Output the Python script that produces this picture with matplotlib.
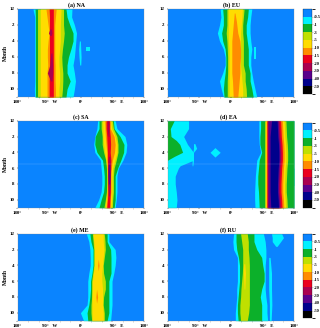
#!/usr/bin/env python3
import numpy as np
import matplotlib
matplotlib.use("Agg")
import matplotlib.pyplot as plt
from matplotlib.colors import ListedColormap, BoundaryNorm
from matplotlib.colorbar import ColorbarBase
from matplotlib.ticker import MultipleLocator

plt.rcParams['font.family'] = ['Liberation Serif', 'DejaVu Serif']

# colour classes, weakest to strongest
colors = ['#0a84ff', '#00f0ff', '#0cb02a', '#bfe000', '#ffdc00', '#ff8c00',
          '#eb001e', '#aa0050', '#5a008c', '#00008c', '#000000']
bounds = [-60, -50, -40, -30, -20, -15, -10, -5, -3, -1, -0.5, 0]
cbar_ticks = [-50, -40, -30, -20, -15, -10, -5, -3, -1, -0.5]

M = list(range(12))  # rows run 12, 1, 2 ... 11 from the top
month_ticks = [0, 2, 4, 6, 8, 10]
month_labels = ['12', '2', '4', '6', '8', '10']
lon_ticks = [-180, -90, 0, 90, 180]
lon_labels = ['180°', '90°   W', '0°', '       90°   E', '180°']

# each layer: colour class, months, left edge (lon), right edge (lon)
NA = [
    (1, M, [-136, -131, -131, -131, -131, -131, -131, -131, -131, -131, -132, -131],
     [-25, -26, -18, -12, -14, -16, -18, -22, -18, -15, -18, -22]),
    (1, [4, 5, 6, 7], [-4, -6, -5, -3], [-1, 0, 1, 0]),
    (1, [4.7, 5, 5.3], [15, 15, 15], [25, 25, 25]),
    (2, M, [-130, -129, -129, -129, -129, -129, -129, -129, -129, -129, -129, -129],
     [-42, -39, -31, -22, -22, -28, -35, -39, -39, -30, -39, -42]),
    (3, M, [-123] * 12, [-49, -49, -49, -47, -49, -52, -54, -53, -51, -51, -52, -54]),
    (4, M, [-115] * 12, [-56, -57, -58, -58, -58, -60, -62, -62, -60, -60, -62, -62]),
    (5, M, [-99, -96, -93, -90, -93, -95, -95, -94, -96, -96, -96, -96],
     [-70, -72, -74, -74, -74, -74, -74, -73, -73, -73, -72, -72]),
    (6, M, [-90, -89, -89, -89, -89, -89, -89, -89, -89, -90, -90, -90], [-78] * 12),
    (7, [2.5, 3, 3.3], [-88, -92, -88], [-84, -82, -84]),
    (7, [5.5, 7, 8, 9], [-85, -88, -95, -86], [-82, -80, -80, -82]),
]
EU = [
    (1, M, [-30, -28, -32, -38, -32, -21, -16, -16, -23, -32, -27, -21],
     [60, 57, 55, 55, 57, 60, 57, 57, 60, 64, 69, 74]),
    (1, [4.8, 5.5, 6.3], [66, 66, 66], [72, 72, 72]),
    (2, M, [-23, -21, -21, -26, -23, -16, -14, -14, -16, -19, -21, -19],
     [50, 48, 44, 44, 47, 50, 50, 50, 55, 55, 60, 64]),
    (3, M, [-11, -11, -11, -13, -11, -10, -9, -9, -9, -10, -10, -10],
     [38, 36, 34, 34, 36, 36, 36, 36, 41, 41, 44, 45]),
    (4, M, [-7, -7, -7, -7, -7, -5, -5, -5, -5, -5, -5, -5],
     [33, 32, 30, 28, 28, 28, 28, 28, 30, 32, 34, 34]),
    (5, [0.5, 1.5, 3, 4, 5, 6, 7, 8, 9, 10, 11], [10, 8, 5, 3, 3, 3, 3, 3, 5, 6, 7],
     [12, 16, 20, 26, 28, 28, 26, 26, 24, 22, 20]),
]
SA = [
    (1, M, [48, 46, 40, 37, 40, 56, 58, 60, 60, 58, 51, 40],
     [98, 103, 126, 131, 129, 120, 107, 103, 103, 103, 101, 98]),
    (2, M, [52, 52, 41, 40, 46, 62, 65, 67, 67, 65, 58, 52],
     [93, 95, 112, 123, 122, 114, 105, 98, 98, 98, 98, 95]),
    (3, M, [58, 58, 61, 61, 65, 71, 73, 74, 74, 73, 70, 66],
     [90, 93, 103, 106, 106, 101, 95, 93, 93, 93, 91, 90]),
    (4, M, [62, 63, 63, 65, 68, 72, 74, 75, 75, 74, 72, 70],
     [86, 88, 98, 103, 103, 97, 91, 89, 89, 89, 88, 86]),
    (5, M, [68, 69, 70, 72, 74, 74, 75, 76, 76, 75, 74, 72],
     [84, 84, 95, 98, 96, 90, 87, 86, 86, 86, 84, 84]),
    (6, M, [72, 72, 74, 75, 76, 76, 77, 77, 77, 77, 76, 74],
     [82, 82, 84, 85, 84, 86, 85, 84, 84, 84, 83, 82]),
    (7, [0, 1, 2], [75, 75, 78], [80, 80, 80]),
    (7, [4.5, 6, 8, 9.5], [79, 76, 77, 79], [83, 85, 84, 82]),
    (8, [5.5, 7, 8], [79, 78, 79], [82, 83, 82]),
]
EA_left = [
    (1, [0, 1, 2, 3, 4, 5, 5.7, 6, 7, 8, 9, 10, 11], [-180] * 13,
     [-120, -120, -134, -123, -106, -106, -144, -149, -158, -158, -155, -153, -155]),
    (1, [2.9, 3.5, 4, 5, 5.7], [-106, -106, -108, -110, -110], [-102, -97, -106, -106, -108]),
    (1, [3.4, 4, 4.6], [-45, -59, -45], [-45, -30, -45]),
    (2, [0, 1, 2, 2.5, 3, 4, 4.5, 5], [-180] * 8, [-161, -172, -170, -155, -145, -137, -160, -180]),
]
EA_right = [
    (1, M, [80, 80, 80, 81, 85, 74, 72, 70, 69, 68, 68, 69], [180] * 12),
    (2, M, [85, 85, 83, 83, 88, 81, 79, 77, 77, 79, 80, 81], [180] * 12),
    (1, [1.4, 2.5, 3.9], [88, 88, 90], [94, 98, 94]),
    (1, [6, 6.5, 7, 8, 8.2], [178, 172, 168, 170, 180], [180] * 5),
    (3, M, [97] * 12, [157, 158, 159, 161, 162, 162, 160, 159, 158, 158, 160, 161]),
    (4, M, [98] * 12, [152, 153, 154, 156, 157, 157, 155, 154, 153, 153, 155, 156]),
    (5, M, [101] * 12, [147, 148, 149, 151, 152, 152, 150, 149, 148, 148, 150, 151]),
    (6, M, [103] * 12, [142, 143, 144, 146, 147, 147, 145, 144, 143, 143, 145, 146]),
    (7, M, [104] * 12, [138, 139, 140, 142, 143, 143, 141, 140, 139, 139, 141, 142]),
    (8, M, [106] * 12, [135, 136, 137, 139, 140, 140, 138, 137, 136, 136, 138, 139]),
    (9, M, [116, 114, 112, 112, 112, 112, 112, 112, 112, 112, 113, 114],
     [132, 133, 134, 136, 137, 137, 135, 134, 133, 133, 135, 136]),
]
ME = [
    (1, M, [16, 23, 26, 27, 27, 23, 20, 20, 20, 18, -1, 8],
     [80, 80, 98, 100, 98, 94, 89, 89, 89, 89, 87, 85]),
    (2, M, [26, 29, 35, 35, 35, 32, 28, 28, 26, 23, 18, 20],
     [75, 75, 85, 86, 86, 86, 80, 80, 80, 80, 80, 75]),
    (3, M, [33, 35, 37, 37, 37, 34, 31, 31, 31, 29, 29, 31],
     [67, 69, 70, 67, 64, 65, 70, 70, 65, 64, 67, 67]),
    (4, M, [35, 37, 39, 39, 39, 36, 33, 33, 32, 32, 32, 33],
     [64, 64, 66, 64, 62, 60, 60, 62, 62, 62, 64, 64]),
    (5, [3.2, 4, 4.7], [50, 48, 50], [50, 52, 50]),
    (5, [7, 8, 8.8], [45, 43, 45], [45, 48, 45]),
]
RU = [
    (1, M, [8, 6, 8, 19, 19, 19, 19, 17, 17, 15, 13, 13],
     [93, 98, 100, 100, 98, 98, 98, 98, 100, 103, 103, 105]),
    (1, [3, 5, 7, 9, 11], [108, 108, 108, 110, 110], [112, 116, 116, 117, 115]),
    (1, [0, 0.5, 1, 1.6], [116, 118, 118, 128], [145, 150, 142, 132]),
    (2, M, [15, 15, 17, 22, 25, 25, 25, 23, 21, 19, 19, 21],
     [66, 66, 74, 88, 91, 95, 95, 88, 84, 88, 88, 88]),
    (1, [3.6, 4.5, 5.5], [72, 69, 72], [80, 85, 80]),
    (1, [6.3, 7.5, 8.8], [70, 66, 70], [80, 83, 78]),
    (3, M, [28, 31, 34, 34, 34, 33, 31, 29, 28, 26, 26, 28],
     [47, 50, 50, 52, 53, 53, 53, 53, 53, 53, 51, 47]),
    (4, [3.8, 5, 7], [37, 36, 38], [40, 42, 40]),
]

# last item: title centre as a fraction of the axes width
panels = [
    ('(a) NA', NA, (17.5, 9, 126.5, 88), True, 0.465),
    ('(b) EU', EU, (167.5, 9, 126.5, 88), False, 0.51),
    ('(c) SA', SA, (17.5, 120.7, 126.5, 87), True, 0.5),
    ('(d) EA', EA_left + EA_right, (167.5, 120.7, 126.5, 87), False, 0.485),
    ('(e) ME', ME, (17.5, 233.7, 126.5, 87), True, 0.495),
    ('(f) RU', RU, (167.5, 233.7, 126.5, 87), False, 0.48),
]
cbar_boxes = [(303, 9, 9, 85), (303, 122.7, 9, 85), (303, 233.7, 9, 84.5)]

W, H = 320, 328
fig = plt.figure(figsize=(W / 100, H / 100), dpi=100)


def box(x, y, w, h):
    return [x / W, 1 - (y + h) / H, w / W, h / H]


for title, layers, pos, ylabel, title_x in panels:
    ax = fig.add_axes(box(*pos))
    ax.set_facecolor(colors[0])
    # weakest classes first so the stronger ones sit on top
    for level, months, left, right in sorted(layers, key=lambda l: l[0]):
        ax.fill_betweenx(months, left, right, color=colors[level], lw=0)
    ax.set_xlim(-180, 180)
    ax.set_ylim(11, 0)
    ax.set_xticks(lon_ticks, lon_labels)
    ax.set_yticks(month_ticks, month_labels)
    ax.xaxis.set_minor_locator(MultipleLocator(30))
    ax.tick_params(labelsize=3.5, length=1, width=0.3, pad=1.2)
    ax.tick_params(which='minor', length=0.6, width=0.2)
    for lab in ax.get_xticklabels() + ax.get_yticklabels():
        lab.set_fontweight('bold')
    for s in ax.spines.values():
        s.set_linewidth(0.2)
        s.set_color('#808080')
    ax.set_title(title, fontsize=4.2, fontweight='bold', pad=1.8, x=title_x)
    if ylabel:
        ax.set_ylabel('Month', fontsize=4, fontweight='bold', labelpad=1)
    if title in ('(c) SA', '(d) EA'):
        ax.axhline(5.5, color='white', lw=0.3, alpha=0.3)

cmap = ListedColormap(colors[::-1])
norm = BoundaryNorm(bounds, cmap.N)
for pos in cbar_boxes:
    cax = fig.add_axes(box(*pos))
    cb = ColorbarBase(cax, cmap=cmap, norm=norm, spacing='uniform', ticks=cbar_ticks)
    cb.ax.set_yticklabels([str(t) for t in cbar_ticks])
    cb.ax.tick_params(labelsize=3.2, length=0.6, width=0.2, pad=0.6)
    cb.outline.set_linewidth(0.2)
    for lab in cb.ax.get_yticklabels():
        lab.set_fontweight('bold')

fig.savefig('out.png', dpi=100)
